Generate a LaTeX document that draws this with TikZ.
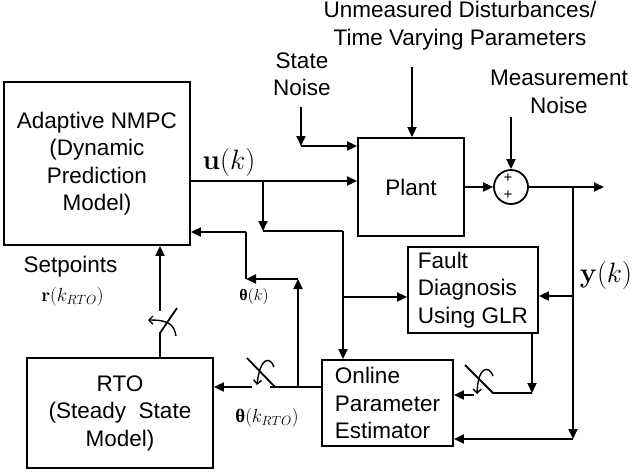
\RequirePackage{fix-cm}
\documentclass[tikz,border=0pt]{standalone}
\usepackage{amsmath}
\usepackage[no-math]{fontspec}
\setmainfont{Liberation Sans}
\newfontfamily\greekserif{Liberation Serif}
\newcommand{\bth}{\text{\greekserif\bfseries θ}}
\usetikzlibrary{arrows.meta}

\begin{document}
\begin{tikzpicture}[x=1pt,y=-1pt,line width=1.8pt,
  font=\fontsize{22.5}{27.5}\selectfont,
  blk/.style={draw,rectangle,inner sep=0pt,align=center},
  tip/.style={-{Triangle[length=10pt,width=9pt]}},
  flip/.style={-{Straight Barb[length=4pt,width=8pt]},line width=1.4pt},
  mathbig/.style={font=\fontsize{28}{30}\selectfont},
  mathmid/.style={font=\fontsize{19}{22}\selectfont},
  mathsmall/.style={font=\fontsize{16}{18}\selectfont}]

\useasboundingbox (0,0) rectangle (634,475);

% blocks
\node[blk,minimum width=186pt,minimum height=163pt] (nmpc) at (97,163.5)
  {Adaptive NMPC\\(Dynamic\\Prediction\\Model)};
\node[blk,minimum width=106pt,minimum height=98pt] (plant) at (411,187) {Plant};
\node[draw,circle,minimum size=34pt,inner sep=0pt] (sum) at (511,187) {};
\node[font=\fontsize{15}{15}\selectfont,inner sep=0pt] (p1) at (508,178) {+};
\node[font=\fontsize{15}{15}\selectfont,inner sep=0pt] (p2) at (508,195) {+};
\node[blk,align=left,minimum width=130pt,minimum height=86pt] (fdg) at (473,290)
  {Fault\\Diagnosis\\Using GLR};
\node[blk,align=left,minimum width=131pt,minimum height=86pt] (ope) at (387.5,403)
  {Online\\Parameter\\Estimator};
\node[blk,minimum width=186pt,minimum height=110pt] (rto) at (120,413)
  {RTO\\(Steady\ \ State\\Model)};

% labels
\node[align=center] (dist) at (460,25.5) {Unmeasured Disturbances/\\Time Varying Parameters};
\node[align=center] (snoise) at (302,74) {State\\Noise};
\node[align=center] (mnoise) at (559,92) {Measurement\\Noise};
\node (setp) at (70.5,267) {Setpoints};
\node[mathmid] (rlab) at (72.5,297) {$\mathbf{r}(k_{RTO})$};
\node[mathbig] (ulab) at (229,162) {$\mathbf{u}(k)$};
\node[mathbig] (ylab) at (606,275) {$\mathbf{y}(k)$};
\node[mathsmall] (thk) at (254,296) {$\bth(k)$};
\node[mathmid] (thr) at (267,418) {$\bth(k_{RTO})$};

% disturbances and noise into the plant
\coordinate (dtop) at (412,67);
\draw[tip] (dtop) -- (dtop |- plant.north);
\coordinate (sn) at (301,107);
\coordinate (snc) at (301,146);
\draw[tip] (sn) -- (snc);
\draw[tip] (snc) -- (snc -| plant.west);

% manipulated input u(k)
\coordinate (ub) at (263,181);
\draw[tip] (nmpc.east |- ub) -- (ub -| plant.west);
\coordinate (uc) at (263,231);
\coordinate (ud) at (343,231);
\coordinate (ue) at (343,297);
\draw[tip] (ub) -- (uc);
\draw (uc) -- (ud);
\draw[tip] (ud) -- (ud |- ope.north);
\draw[tip] (ue) -- (ue -| fdg.west);

% plant output plus measurement noise
\draw[tip] (plant.east |- sum) -- (sum.west);
\coordinate (mn) at (511,117);
\draw[tip] (mn) -- (sum.north);
\coordinate (yo) at (604,187);
\draw[tip] (sum.east) -- (yo);

% measured output y(k)
\coordinate (yv) at (573,187);
\coordinate (yb) at (573,439);
\coordinate (yf) at (573,296);
\draw[tip] (yv) -- (yb);
\draw[tip] (yb) -- (yb -| ope.east);
\draw[tip] (yf) -- (yf -| fdg.east);

% fault flag through a switch into the estimator
\coordinate (fo) at (532,393);
\coordinate (s3a) at (493,393);
\coordinate (s3d) at (465,365);
\coordinate (s3o) at (474,395);
\draw[tip] (fdg.south -| fo) -- (fo);
\draw (fo) -- (s3a) -- (s3d);
\draw[flip] (493,376) .. controls (489,365) and (478,366) .. (477,394);
\draw[tip] (s3o) -- (s3o -| ope.east);

% parameter estimates: theta(k_RTO) through a switch to RTO
\coordinate (s2r) at (270,387);
\coordinate (s2e) at (275,387);
\coordinate (s2d) at (247,358);
\coordinate (s2l) at (252,387);
\draw (ope.west |- s2r) -- (s2r);
\draw (s2e) -- (s2d);
\draw[tip] (s2l) -- (s2l -| rto.east);
\draw[flip] (274,367) .. controls (270,356) and (260,357) .. (257,385);

% theta(k) back to the NMPC
\coordinate (tv) at (298,387);
\coordinate (tt) at (298,279);
\coordinate (tl) at (246,279);
\coordinate (tu) at (246,232);
\draw[tip] (tv) -- (tt);
\draw[tip] (tt) -- (tl);
\draw (tl) -- (tu);
\draw[tip] (tu) -- (tu -| nmpc.east);

% setpoints from RTO through a switch to the NMPC
\coordinate (s1t) at (160,311);
\coordinate (s1b) at (160,333);
\coordinate (s1d) at (177,308);
\draw[tip] (s1t) -- (s1t |- nmpc.south);
\draw (rto.north -| s1b) -- (s1b) -- (s1d);
\draw[flip] (176,336) .. controls (174,324) and (168,320) .. (148,320);
\end{tikzpicture}
\end{document}
